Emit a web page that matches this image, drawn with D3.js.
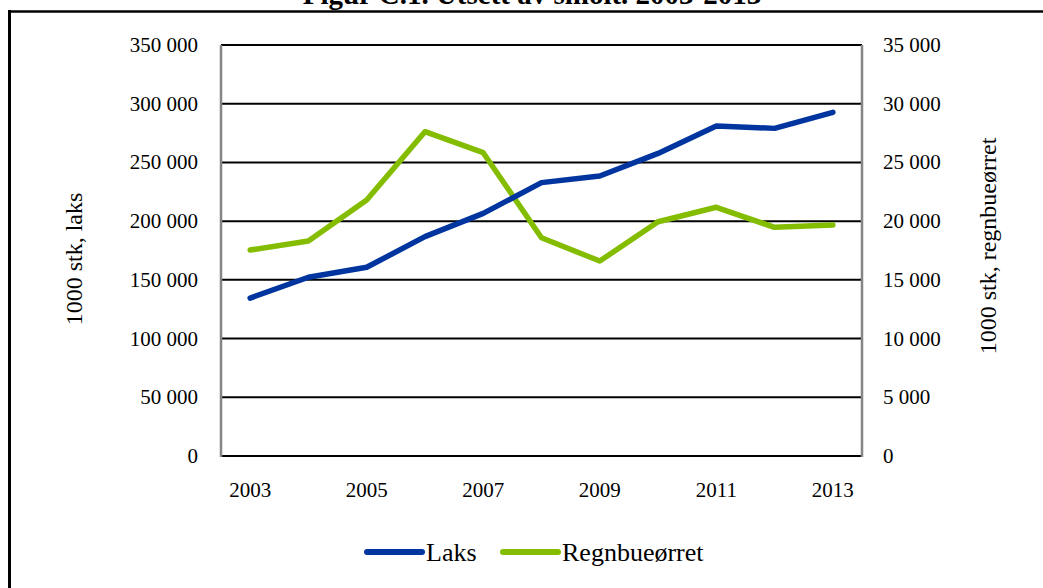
<!DOCTYPE html>
<html>
<head>
<meta charset="utf-8">
<script src="https://cdn.jsdelivr.net/npm/d3@7/dist/d3.min.js"></script>
<style>
    body { margin: 0; background: #fff; }
    svg { display: block; }
    text { font-family: "Liberation Serif", "Times New Roman", serif; fill: #000; }
</style>
</head>
<body>
<div id="chart"></div>
<script>
const width = 1043;
const height = 588;

// data
const years = ["2003", "2004", "2005", "2006", "2007", "2008", "2009", "2010", "2011", "2012", "2013"];
const laks = [134500, 152200, 160700, 186800, 206600, 232800, 238400, 257700, 281000, 279000, 292700];
const regnbueorret = [17540, 18310, 21800, 27620, 25830, 18590, 16600, 19950, 21180, 19470, 19670];
const yearLabels = ["2003", "2005", "2007", "2009", "2011", "2013"];
const leftTicks = [0, 50000, 100000, 150000, 200000, 250000, 300000, 350000];
const rightTicks = [0, 5000, 10000, 15000, 20000, 25000, 30000, 35000];
const seriesNames = ["Laks", "Regnbueørret"];
const colors = ["#0035a0", "#84bd00"];

const plot = { left: 221, right: 862, top: 45, bottom: 456 };

const nb = d3.formatLocale({ decimal: ",", thousands: " ", grouping: [3], currency: ["", ""] });
const fmt = nb.format(",d");

const svg = d3.select("#chart")
    .append("svg")
    .attr("width", width)
    .attr("height", height);

// frame around the figure
svg.append("line")
    .attr("x1", 8).attr("x2", width)
    .attr("y1", 11.5).attr("y2", 11.5)
    .attr("stroke", "#000").attr("stroke-width", 2.5);
svg.append("line")
    .attr("x1", 9.5).attr("x2", 9.5)
    .attr("y1", 10).attr("y2", height)
    .attr("stroke", "#000").attr("stroke-width", 3);

// title (cut off at the top, as in the source)
svg.append("text")
    .attr("x", 532)
    .attr("y", 4)
    .attr("text-anchor", "middle")
    .style("font-size", "29px")
    .style("font-weight", "bold")
    .text("Figur C.1. Utsett av smolt. 2003-2013");

const x = d3.scaleBand()
    .domain(years)
    .range([plot.left, plot.right]);

const yLeft = d3.scaleLinear()
    .domain([0, 350000])
    .range([plot.bottom, plot.top]);

const yRight = d3.scaleLinear()
    .domain([0, 35000])
    .range([plot.bottom, plot.top]);

// gridlines
svg.append("g")
    .selectAll("line")
    .data(leftTicks)
    .enter().append("line")
    .attr("x1", plot.left).attr("x2", plot.right)
    .attr("y1", d => yLeft(d)).attr("y2", d => yLeft(d))
    .attr("stroke", "#000")
    .attr("stroke-width", 2);

// vertical axis lines
svg.append("line")
    .attr("x1", plot.left).attr("x2", plot.left)
    .attr("y1", plot.top).attr("y2", plot.bottom + 1)
    .attr("stroke", "#858585").attr("stroke-width", 2.5);
svg.append("line")
    .attr("x1", plot.right).attr("x2", plot.right)
    .attr("y1", plot.top).attr("y2", plot.bottom + 1)
    .attr("stroke", "#858585").attr("stroke-width", 2.5);

// left tick labels
svg.append("g")
    .selectAll("text")
    .data(leftTicks)
    .enter().append("text")
    .attr("x", 198)
    .attr("y", d => yLeft(d))
    .attr("dy", "0.33em")
    .attr("text-anchor", "end")
    .style("font-size", "21px")
    .text(d => fmt(d));

// right tick labels
svg.append("g")
    .selectAll("text")
    .data(rightTicks)
    .enter().append("text")
    .attr("x", 883)
    .attr("y", d => yRight(d))
    .attr("dy", "0.33em")
    .attr("text-anchor", "start")
    .style("font-size", "21px")
    .text(d => fmt(d));

// x labels
svg.append("g")
    .selectAll("text")
    .data(yearLabels)
    .enter().append("text")
    .attr("x", d => x(d) + x.bandwidth() / 2)
    .attr("y", 497)
    .attr("text-anchor", "middle")
    .style("font-size", "21px")
    .text(d => d);

// axis titles
svg.append("text")
    .attr("transform", "translate(82,259) rotate(-90)")
    .attr("text-anchor", "middle")
    .style("font-size", "24px")
    .text("1000 stk, laks");
svg.append("text")
    .attr("transform", "translate(996,246) rotate(-90)")
    .attr("text-anchor", "middle")
    .style("font-size", "24px")
    .text("1000 stk, regnbueørret");

// lines
const lineLeft = d3.line()
    .x((d, i) => x(years[i]) + x.bandwidth() / 2)
    .y(d => yLeft(d));
const lineRight = d3.line()
    .x((d, i) => x(years[i]) + x.bandwidth() / 2)
    .y(d => yRight(d));

svg.append("path")
    .datum(regnbueorret)
    .attr("d", lineRight)
    .attr("fill", "none")
    .attr("stroke", colors[1])
    .attr("stroke-width", 5.5)
    .attr("stroke-linejoin", "round")
    .attr("stroke-linecap", "round");

svg.append("path")
    .datum(laks)
    .attr("d", lineLeft)
    .attr("fill", "none")
    .attr("stroke", colors[0])
    .attr("stroke-width", 5.5)
    .attr("stroke-linejoin", "round")
    .attr("stroke-linecap", "round");

// legend
const legendX = [367, 503];
const legend = svg.append("g")
    .selectAll("g")
    .data(seriesNames)
    .enter().append("g")
    .attr("transform", (d, i) => "translate(" + legendX[i] + ",552)");
legend.append("line")
    .attr("x1", 0).attr("x2", 55)
    .attr("stroke", (d, i) => colors[i])
    .attr("stroke-width", 6)
    .attr("stroke-linecap", "round");
legend.append("text")
    .attr("x", 59)
    .attr("dy", "0.33em")
    .style("font-size", "26px")
    .text(d => d);
</script>
</body>
</html>
